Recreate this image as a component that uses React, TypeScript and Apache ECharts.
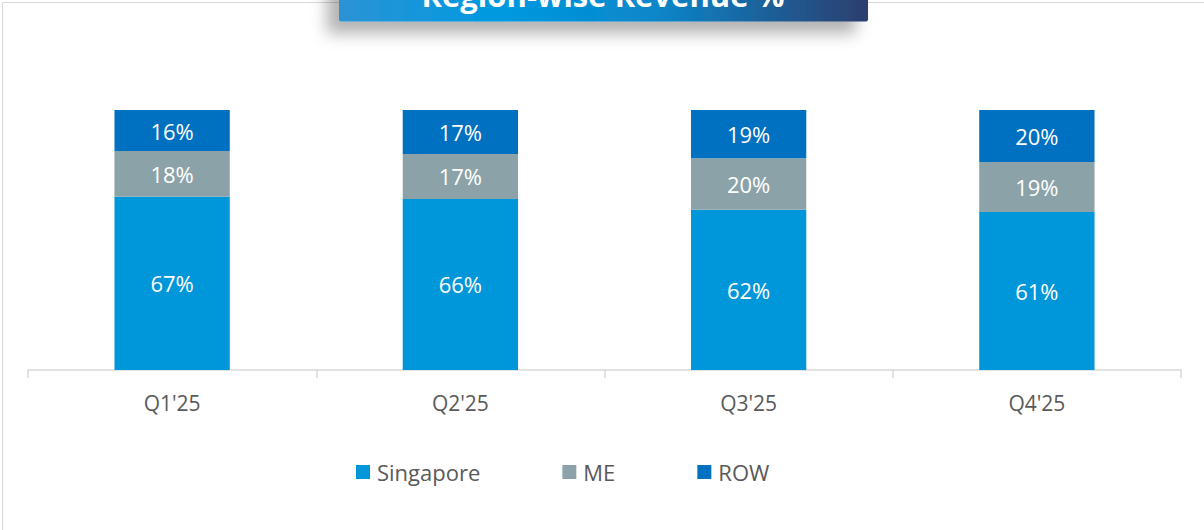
import React, { useEffect, useRef } from "react";
import * as echarts from "echarts";

const categories = ["Q1'25", "Q2'25", "Q3'25", "Q4'25"];
const singapore = [66.6, 65.8, 61.6, 60.8];
const me = [17.6, 17.3, 19.8, 19.2];
const row = [15.8, 16.9, 18.6, 20.0];
const seriesNames = ["Singapore", "ME", "ROW"];
const titleText = "Region-wise Revenue %";

const FONT = "'Open Sans', sans-serif";

export default function App() {
  const ref = useRef<HTMLDivElement>(null);
  useEffect(() => {
    if (!ref.current) return;
    const chart = echarts.init(ref.current, undefined, { renderer: "svg" });
    const label = {
      show: true,
      color: "#ffffff",
      fontFamily: FONT,
      fontSize: 22,
      formatter: (p: any) => Math.round(p.value) + "%",
    };
    const mk = (name: string, data: number[], color: string) => ({
      name,
      type: "bar",
      stack: "total",
      data,
      barWidth: "40%",
      itemStyle: { color },
      label,
    });
    chart.setOption({
      animation: false,
      backgroundColor: "#ffffff",
      grid: { left: 28, right: 23, top: 110, bottom: 160 },
      xAxis: {
        type: "category",
        data: categories,
        axisLine: { lineStyle: { color: "#d9d9d9", width: 1.5 } },
        axisTick: { show: true, length: 8, lineStyle: { color: "#d9d9d9", width: 1.5 } },
        axisLabel: { color: "#595959", fontFamily: FONT, fontSize: 21, margin: 22 },
      },
      yAxis: { type: "value", min: 0, max: 100, show: false },
      legend: {
        data: seriesNames,
        left: 356,
        top: 461,
        padding: 0,
        itemWidth: 14,
        itemHeight: 14,
        itemGap: 82,
        icon: "rect",
        textStyle: { color: "#595959", fontFamily: FONT, fontSize: 22, padding: [0, 0, 0, 2] },
      },
      series: [
        mk(seriesNames[0], singapore, "#0096da"),
        mk(seriesNames[1], me, "#8ba3a8"),
        mk(seriesNames[2], row, "#0070c0"),
      ],
      graphic: [
        {
          type: "rect",
          left: 0,
          top: 0,
          shape: { width: 1203, height: 529 },
          style: { fill: "none", stroke: "#d9d9d9", lineWidth: 1 },
          silent: true,
          z: 0,
        },
        {
          type: "rect",
          x: 339,
          y: -30,
          shape: { width: 529, height: 51.5, r: 2 },
          style: {
            fill: new echarts.graphic.LinearGradient(0, 0, 1, 0, [
              { offset: 0, color: "#2b93d5" },
              { offset: 0.3, color: "#0099e0" },
              { offset: 0.6, color: "#0a86c9" },
              { offset: 1, color: "#2d3e6e" },
            ]),
            shadowBlur: 16,
            shadowOffsetX: -12,
            shadowOffsetY: 12,
            shadowColor: "rgba(0,0,0,0.3)",
          },
          z: 10,
        },
        {
          type: "text",
          x: 603,
          y: -5,
          style: {
            text: titleText,
            fill: "#ffffff",
            font: "bold 31px 'Open Sans', sans-serif",
            textAlign: "center",
            textVerticalAlign: "middle",
          },
          z: 11,
        },
      ],
    });
    return () => chart.dispose();
  }, []);
  return (
    <div
      ref={ref}
      style={{ position: "fixed", left: 0, top: 0, width: 1204, height: 530 }}
    />
  );
}
